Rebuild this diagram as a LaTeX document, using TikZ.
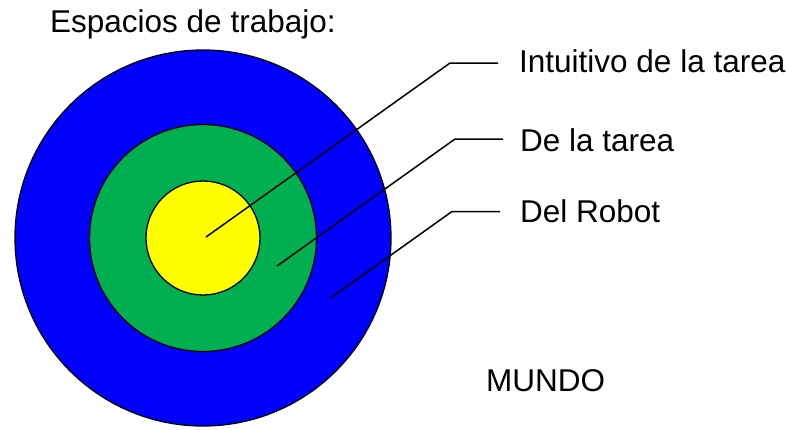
\documentclass[tikz,border=0pt]{standalone}
\usepackage{fontspec}
\setmainfont{Liberation Sans}
\usepackage{tikz}
\usetikzlibrary{positioning}

\definecolor{mundoblue}{HTML}{0000FF}
\definecolor{tareagreen}{HTML}{00B050}
\definecolor{intuyellow}{HTML}{FFFF00}

\begin{document}
\begin{tikzpicture}[x=1pt,y=-1pt]
    \useasboundingbox (0,0) rectangle (788,429);

    %Espacios (circulos)
     \begin{scope}[every node/.style={circle,draw=black,line width=1.3pt,inner sep=0pt}]
       \node[fill=mundoblue, minimum size=376pt] (robot) at (203,238) {};
       \node[fill=tareagreen, minimum size=227pt] (tarea) at (203,238) {};
       \node[fill=intuyellow, minimum size=114pt] (intuitivo) at (203,238) {};
    \end{scope}

    %Etiquetas
     \begin{scope}[every node/.style={anchor=base west,inner sep=0pt,
        font=\fontsize{31.5}{36}\selectfont}]
       \node (titulo) at (50,32) {Espacios de trabajo:};
       \node (lintu) at (519,72.5) {Intuitivo de la tarea};
       \node (ltarea) at (520,151.5) {De la tarea};
       \node (lrobot) at (520,222.5) {Del Robot};
       \node (mundo) at (486,391.5) {MUNDO};
    \end{scope}

    %Lineas
    \coordinate (p1) at (206,237);
    \coordinate (k1) at (450,63);
    \coordinate (e1) at (498,63);
    \coordinate (p2) at (277,266);
    \coordinate (k2) at (455,139);
    \coordinate (e2) at (503,139);
    \coordinate (p3) at (330,298.5);
    \coordinate (k3) at (452,211.5);
    \coordinate (e3) at (500,211.5);

    \begin{scope}[every path/.style={draw,line width=1.5pt}]
      \path (p1) -- (k1) -- (e1);
      \path (p2) -- (k2) -- (e2);
      \path (p3) -- (k3) -- (e3);
    \end{scope}
  \end{tikzpicture}
\end{document}
